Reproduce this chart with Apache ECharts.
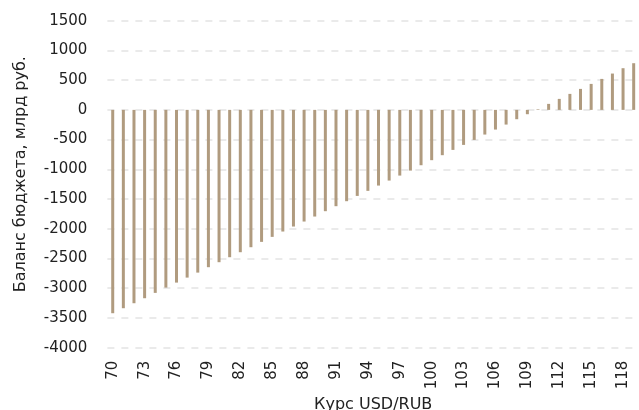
<!DOCTYPE html>
<html><head><meta charset="utf-8">
<script src="https://cdn.jsdelivr.net/npm/echarts@6/dist/echarts.min.js"></script>
<style>html,body{margin:0;padding:0;background:#fff}#c{width:639px;height:410px}</style>
</head><body><div id="c"></div>
<script>
const rates = [70,71,72,73,74,75,76,77,78,79,80,81,82,83,84,85,86,87,88,89,90,91,92,93,94,95,96,97,98,99,100,101,102,103,104,105,106,107,108,109,110,111,112,113,114,115,116,117,118,119];
const balance = [-3420,-3336,-3252,-3168,-3078,-2989,-2905,-2821,-2737,-2646,-2562,-2478,-2394,-2310,-2220,-2136,-2046,-1962,-1878,-1794,-1704,-1620,-1536,-1447,-1362,-1273,-1189,-1105,-1021,-931,-846,-762,-673,-589,-505,-415,-331,-247,-157,-73,10,101,185,269,353,437,521,611,701,785];
const yTicks = {min:-4000, max:1500, interval:500};
const font = 'DejaVu Sans, sans-serif';
const chart = echarts.init(document.getElementById('c'));
chart.setOption({
  animation:false,
  grid:{left:107.4, right:0, top:20.7, bottom:62.3, containLabel:false, outerBoundsMode:'none'},
  xAxis:{type:'category', data:rates.map(String), name:'Курс USD/RUB', nameLocation:'middle', nameGap:41,
    nameTextStyle:{fontFamily:font, fontSize:16, color:'#222'},
    axisLine:{show:false, onZero:false}, axisTick:{show:false},
    axisLabel:{interval:2, rotate:90, margin:13, fontFamily:font, fontSize:15, color:'#222'}},
  yAxis:{type:'value', min:yTicks.min, max:yTicks.max, interval:yTicks.interval,
    name:'Баланс бюджета, млрд руб.', nameLocation:'middle', nameGap:79, nameRotate:90,
    nameTextStyle:{fontFamily:font, fontSize:16, color:'#222', padding:[0,0,0,20]},
    axisLabel:{fontFamily:font, fontSize:15, color:'#222', margin:20, formatter:v=>String(v)},
    splitLine:{lineStyle:{color:'#e3e3e3', type:[7,7], width:1.5}}},
  series:[{type:'bar', data:balance, barWidth:3, itemStyle:{color:'#b09b7f'}}]
});
</script></body></html>
